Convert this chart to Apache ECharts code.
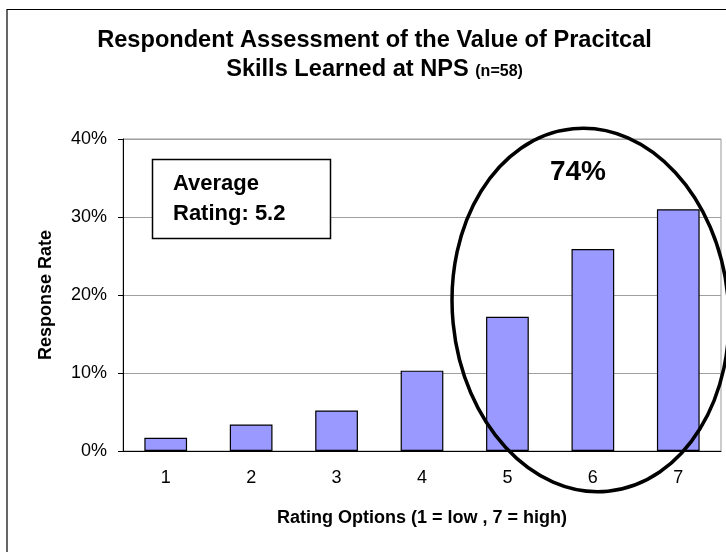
<!DOCTYPE html>
<html>
<head>
<meta charset="utf-8">
<script src="https://cdn.jsdelivr.net/npm/echarts@6/dist/echarts.min.js"></script>
<style>
  html, body { margin: 0; padding: 0; background: #fff; }
  #chart { width: 726px; height: 552px; }
</style>
</head>
<body>
<div id="chart"></div>
<script>
// rating options on the x axis
const categories = ['1', '2', '3', '4', '5', '6', '7'];
// response rate in percent
const responseRate = [1.7, 3.4, 5.2, 10.3, 17.2, 25.9, 31.0];
// y axis range, percent
const yMin = 0;
const yMax = 40;
const yStep = 10;

const titleLine1 = 'Respondent Assessment of the Value of Pracitcal';
const titleLine2 = 'Skills Learned at NPS';
const titleNote = '(n=58)';
const averageText = ['Average', 'Rating: 5.2'];
const topShareText = '74%';

const font = '"Liberation Sans", Arial, sans-serif';

const chart = echarts.init(document.getElementById('chart'));

const option = {
  backgroundColor: '#fff',
  animation: false,
  textStyle: { fontFamily: font, color: '#000' },
  grid: {
    left: 123,
    top: 139,
    width: 598,
    height: 312,
    show: true,
    borderColor: '#999',
    borderWidth: 1,
    backgroundColor: 'transparent'
  },
  xAxis: {
    type: 'category',
    data: categories,
    name: 'Rating Options (1 = low , 7 = high)',
    nameLocation: 'middle',
    nameGap: 58,
    nameTextStyle: { fontFamily: font, fontSize: 18, fontWeight: 'bold', color: '#000' },
    axisLine: { lineStyle: { color: '#000', width: 1 } },
    axisTick: { show: false },
    axisLabel: { fontFamily: font, fontSize: 18, color: '#000', margin: 18 },
    splitLine: { show: false }
  },
  yAxis: {
    type: 'value',
    min: yMin,
    max: yMax,
    interval: yStep,
    name: 'Response Rate',
    nameLocation: 'middle',
    nameRotate: 90,
    nameGap: 68,
    nameTextStyle: { fontFamily: font, fontSize: 18, fontWeight: 'bold', color: '#000' },
    axisLine: { show: true, lineStyle: { color: '#000', width: 1 } },
    axisTick: { show: true, length: 5, lineStyle: { color: '#000' } },
    axisLabel: {
      fontFamily: font, fontSize: 18, color: '#000', margin: 16,
      formatter: '{value}%'
    },
    splitLine: { show: true, lineStyle: { color: '#a0a0a0', width: 1 } }
  },
  series: [
    {
      name: 'Response Rate',
      type: 'bar',
      data: responseRate,
      barWidth: '50%',
      itemStyle: { color: '#9999ff', borderColor: '#000', borderWidth: 1.2 }
    }
  ],
  graphic: [
    // outer chart frame (right and bottom edges fall outside the picture)
    {
      type: 'rect', z: -1,
      shape: { x: 7, y: 9.5, width: 760, height: 580 },
      style: { fill: 'none', stroke: '#000', lineWidth: 1.2 }
    },
    {
      type: 'text',
      style: {
        x: 374.5, y: 40, text: titleLine1, align: 'center', verticalAlign: 'middle',
        font: 'bold 23.6px ' + font, fill: '#000'
      }
    },
    {
      type: 'text',
      style: {
        x: 374.5, y: 69, text: titleLine2 + ' {n|' + titleNote + '}',
        align: 'center', verticalAlign: 'middle',
        font: 'bold 23.6px ' + font, fill: '#000',
        rich: { n: { fontFamily: font, fontSize: 16, fontWeight: 'bold', padding: [5, 0, 0, 0] } }
      }
    },
    // average rating box, drawn above the grid lines
    {
      type: 'group', z: 20,
      children: [
        {
          type: 'rect', z: 20,
          shape: { x: 152.5, y: 159.5, width: 178, height: 79 },
          style: { fill: '#fff', stroke: '#000', lineWidth: 1.5 }
        },
        {
          type: 'text', z: 21,
          style: {
            x: 173, y: 169, text: averageText.join('\n'), lineHeight: 30,
            verticalAlign: 'top', font: 'bold 22px ' + font, fill: '#000'
          }
        }
      ]
    },
    // share of ratings 5-7
    {
      type: 'text', z: 20,
      style: {
        x: 578, y: 172, text: topShareText, align: 'center', verticalAlign: 'middle',
        font: 'bold 28px ' + font, fill: '#000'
      }
    },
    {
      type: 'ellipse',
      x: 590.5, y: 310, rotation: 0.096, z: 20,
      shape: { cx: 0, cy: 0, rx: 138, ry: 182 },
      style: { fill: 'none', stroke: '#000', lineWidth: 3.5 }
    }
  ]
};

chart.setOption(option);
</script>
</body>
</html>
